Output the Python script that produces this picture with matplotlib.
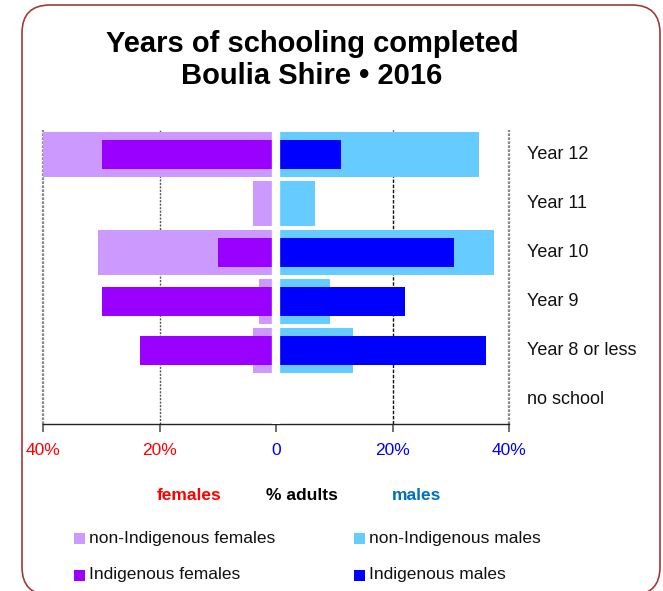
import numpy as np
import matplotlib
matplotlib.use("Agg")
import matplotlib.pyplot as plt
from matplotlib.patches import FancyBboxPatch, Rectangle
from matplotlib.transforms import blended_transform_factory

plt.rcParams['font.family'] = ['Liberation Sans', 'DejaVu Sans']

# Data (% of adults)
categories = ["Year 12", "Year 11", "Year 10", "Year 9", "Year 8 or less", "no school"]
non_indig_females = [40.0, 4.0, 30.5, 3.0, 4.0, 0.0]
indig_females = [29.9, 0.0, 9.9, 29.9, 23.3, 0.0]
non_indig_males = [34.9, 6.7, 37.4, 9.2, 13.3, 0.0]
indig_males = [11.1, 0.0, 30.5, 22.2, 36.1, 0.0]
tick_values = [-40, -20, 0, 20, 40]
tick_labels = ["40%", "20%", "0", "20%", "40%"]

C_NIF = "#CC99FF"
C_IF = "#9900FF"
C_NIM = "#66CCFF"
C_IM = "#0000FF"

W, H = 663, 591
fig = plt.figure(figsize=(W / 100, H / 100), dpi=100)

# Pixel-space background layer for frame, titles and legend
bg = fig.add_axes([0, 0, 1, 1], zorder=0)
bg.set_xlim(0, W)
bg.set_ylim(H, 0)
bg.axis("off")

frame = FancyBboxPatch((22, 5), 638, 590, boxstyle="round,pad=0,rounding_size=28",
                       facecolor="white", edgecolor="#A33A3A", linewidth=1.2)
bg.add_patch(frame)

bg.text(312, 44, "Years of schooling completed", ha="center", va="center",
        fontsize=21, fontweight="bold", color="black")
bg.text(312, 76, "Boulia Shire \u2022 2016", ha="center", va="center",
        fontsize=21, fontweight="bold", color="black")

# Main chart axes
left_px, right_px, top_px, bot_px = 43, 509, 130, 424
ax = fig.add_axes([left_px / W, 1 - bot_px / H, (right_px - left_px) / W, (bot_px - top_px) / H],
                  zorder=1)
ax.patch.set_alpha(0)

y = np.arange(len(categories))
ax.barh(y, -np.array(non_indig_females), height=0.91, color=C_NIF, zorder=2)
ax.barh(y, -np.array(indig_females), height=0.59, color=C_IF, zorder=3)
ax.barh(y, np.array(non_indig_males), height=0.91, color=C_NIM, zorder=2)
ax.barh(y, np.array(indig_males), height=0.59, color=C_IM, zorder=3)

# white gap separating the two halves
ax.axvline(0, color="white", linewidth=6, zorder=4)

# vertical gridlines
for v in (-40, 40):
    ax.axvline(v, color="#8A8A8A", linestyle=(0, (1.2, 0.6)), linewidth=1.6, zorder=1, clip_on=False)
ax.axvline(-20, color="#555555", linestyle=(0, (1.5, 1.0)), linewidth=1.0, zorder=1)
ax.axvline(20, color="#111111", linestyle=(0, (2.5, 1.2)), linewidth=1.0, zorder=1)

ax.set_xlim(-40, 40)
ax.set_ylim(len(categories) - 0.5, -0.5)
ax.set_yticks([])
for s in ("top", "left", "right"):
    ax.spines[s].set_visible(False)
ax.spines["bottom"].set_color("#222222")
ax.spines["bottom"].set_linewidth(1.0)
ax.set_xticks(tick_values)
ax.set_xticklabels(tick_labels)
ax.tick_params(axis="x", direction="out", length=6, width=1.2, color="#555555", pad=8,
               labelsize=12.5)
for lbl, col in zip(ax.get_xticklabels(), ["#FF0000", "#FF0000", "#0000FF", "#0000FF", "#0000FF"]):
    lbl.set_color(col)

trans = blended_transform_factory(ax.transAxes, ax.transData)
for yi, cat in zip(y, categories):
    ax.text(1.039, yi, cat, transform=trans, ha="left", va="center", fontsize=13, color="#111111")

# Axis captions
bg.text(189, 495, "females", ha="center", va="center", fontsize=12.5, fontweight="bold", color="#FF0000")
bg.text(302, 495, "% adults", ha="center", va="center", fontsize=12.5, fontweight="bold", color="black")
bg.text(417, 495, "males", ha="center", va="center", fontsize=12.5, fontweight="bold", color="#0070C0")

# Legend
legend_items = [
    (74, 538, C_NIF, "non-Indigenous females"),
    (354, 538, C_NIM, "non-Indigenous males"),
    (74, 575, C_IF, "Indigenous females"),
    (354, 575, C_IM, "Indigenous males"),
]
for x0, yc, col, txt in legend_items:
    bg.add_patch(Rectangle((x0, yc - 5.5), 11, 11, facecolor=col, edgecolor="none"))
    bg.text(x0 + 15, yc, txt, ha="left", va="center", fontsize=12.5, color="#111111")

fig.savefig("out.png", dpi=100)
